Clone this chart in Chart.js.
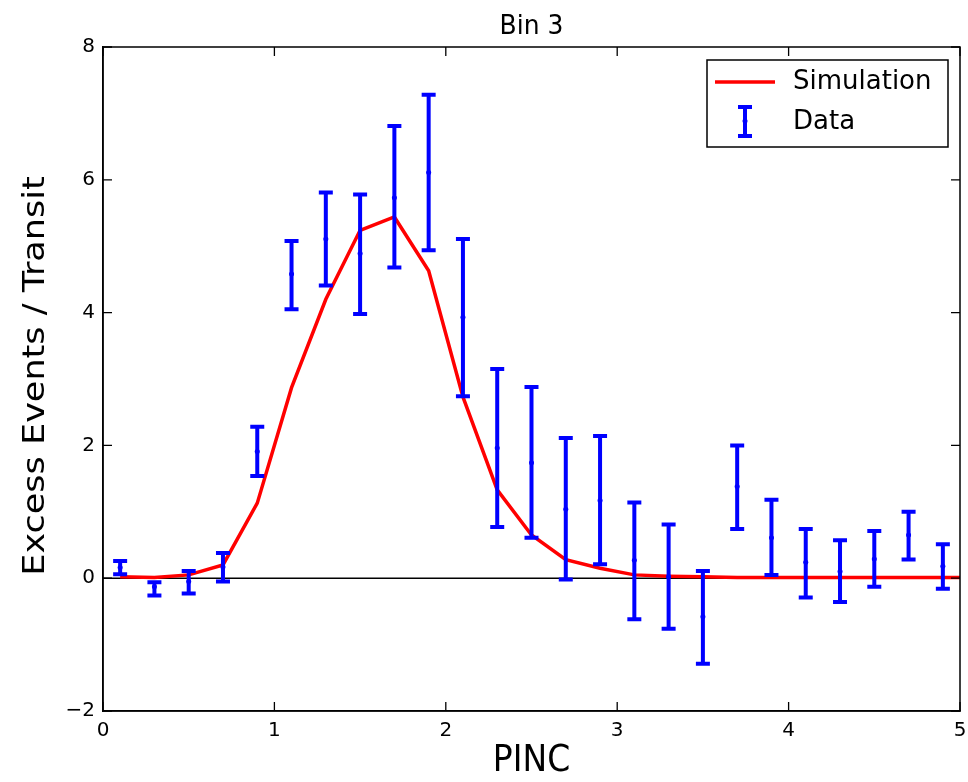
<!DOCTYPE html>
<html>
<head>
<meta charset="utf-8">
<script src="https://cdn.jsdelivr.net/npm/chart.js@4/dist/chart.umd.min.js"></script>
<style>
  html, body { margin: 0; padding: 0; background: #fff; }
  #wrap { width: 968px; height: 782px; }
</style>
</head>
<body>
<div id="wrap"><canvas id="c" width="968" height="782"></canvas></div>
<script>
// PINC bin centres
const pinc = [0.1, 0.3, 0.5, 0.7, 0.9, 1.1, 1.3, 1.5, 1.7, 1.9, 2.1, 2.3, 2.5,
              2.7, 2.9, 3.1, 3.3, 3.5, 3.7, 3.9, 4.1, 4.3, 4.5, 4.7, 4.9];
// measured excess events per transit
const dataVals = [0.16, -0.13, -0.05, 0.17, 1.91, 4.58, 5.11, 4.89, 5.73, 6.11, 3.93, 1.96, 1.74,
                  1.04, 1.17, 0.27, 0.02, -0.58, 1.38, 0.61, 0.24, 0.10, 0.29, 0.65, 0.18];
// lower / upper ends of the error bars
const dataLow  = [0.06, -0.26, -0.23, -0.05, 1.54, 4.05, 4.41, 3.98, 4.68, 4.94, 2.74, 0.77, 0.61,
                  -0.02, 0.21, -0.62, -0.76, -1.29, 0.74, 0.05, -0.29, -0.36, -0.13, 0.28, -0.16];
const dataHigh = [0.26, -0.06, 0.11, 0.38, 2.28, 5.08, 5.81, 5.78, 6.81, 7.28, 5.11, 3.15, 2.88,
                  2.11, 2.14, 1.14, 0.81, 0.11, 2.00, 1.18, 0.74, 0.57, 0.71, 1.00, 0.51];
// simulated curve
const simX   = [0.1, 0.3, 0.5, 0.7, 0.9, 1.1, 1.3, 1.5, 1.7, 1.9, 2.1, 2.3, 2.5,
                2.7, 2.9, 3.1, 3.3, 3.5, 3.7, 3.9, 4.1, 4.3, 4.5, 4.7, 4.9, 5.0];
const simVals = [0.02, 0.01, 0.05, 0.20, 1.13, 2.87, 4.20, 5.24, 5.44, 4.63, 2.73, 1.33, 0.65,
                 0.28, 0.15, 0.05, 0.03, 0.02, 0.01, 0.01, 0.01, 0.01, 0.01, 0.01, 0.01, 0.01];
// axis ticks
const xTicks = [0, 1, 2, 3, 4, 5];
const yTicks = [-2, 0, 2, 4, 6, 8];

const FONT = "'DejaVu Sans', sans-serif";
const BLUE = '#0000ff';
const RED = '#ff0000';

// text drawn slightly taller than wide, like the rest of the figure
function stretchedText(ctx, text, x, y, size, sy, rot) {
  ctx.save();
  ctx.translate(x, y);
  if (rot) ctx.rotate(rot);
  if (rot) ctx.scale(sy, 1); else ctx.scale(1, sy);
  ctx.font = `${size}px ${FONT}`;
  ctx.fillText(text, 0, 0);
  ctx.restore();
}

const decor = {
  id: 'decor',
  beforeDatasetsDraw(chart) {
    const { ctx, chartArea: a, scales: { y } } = chart;
    ctx.save();
    // horizontal reference line at zero
    ctx.strokeStyle = '#000';
    ctx.lineWidth = 1.5;
    const y0 = y.getPixelForValue(0);
    ctx.beginPath();
    ctx.moveTo(a.left, y0);
    ctx.lineTo(a.right, y0);
    ctx.stroke();
    ctx.restore();
  },
  afterDatasetsDraw(chart) {
    const { ctx, scales: { x, y } } = chart;
    ctx.save();
    // error bars with caps
    ctx.strokeStyle = BLUE;
    ctx.lineWidth = 4;
    ctx.lineCap = 'butt';
    const capHalf = 7;
    pinc.forEach((px, i) => {
      const cx = x.getPixelForValue(px);
      const yl = y.getPixelForValue(dataLow[i]);
      const yh = y.getPixelForValue(dataHigh[i]);
      ctx.beginPath();
      ctx.moveTo(cx, yl); ctx.lineTo(cx, yh);
      ctx.moveTo(cx - capHalf, yl); ctx.lineTo(cx + capHalf, yl);
      ctx.moveTo(cx - capHalf, yh); ctx.lineTo(cx + capHalf, yh);
      ctx.stroke();
    });
    ctx.restore();
  },
  afterDraw(chart) {
    const { ctx, chartArea: a, scales: { x, y } } = chart;
    ctx.save();
    // frame
    ctx.strokeStyle = '#000';
    ctx.lineWidth = 1.5;
    ctx.strokeRect(a.left, a.top, a.right - a.left, a.bottom - a.top);
    // inward ticks on all four sides
    const tl = 9;
    ctx.lineWidth = 1.3;
    ctx.beginPath();
    xTicks.forEach(v => {
      const px = x.getPixelForValue(v);
      ctx.moveTo(px, a.bottom); ctx.lineTo(px, a.bottom - tl);
      ctx.moveTo(px, a.top); ctx.lineTo(px, a.top + tl);
    });
    yTicks.forEach(v => {
      const py = y.getPixelForValue(v);
      ctx.moveTo(a.left, py); ctx.lineTo(a.left + tl, py);
      ctx.moveTo(a.right, py); ctx.lineTo(a.right - tl, py);
    });
    ctx.stroke();

    // title and axis titles
    ctx.fillStyle = '#000';
    ctx.textAlign = 'center';
    ctx.textBaseline = 'middle';
    stretchedText(ctx, 'Bin 3', (a.left + a.right) / 2, 27, 25, 1.08, 0);
    stretchedText(ctx, 'PINC', (a.left + a.right) / 2, 761, 33, 1.12, 0);
    stretchedText(ctx, 'Excess Events / Transit', 36, 376, 31, 1.13, -Math.PI / 2);

    // legend
    const lx = 707, ly = 60, lw = 241, lh = 87;
    ctx.fillStyle = '#fff';
    ctx.fillRect(lx, ly, lw, lh);
    ctx.strokeStyle = '#000';
    ctx.lineWidth = 1.5;
    ctx.strokeRect(lx, ly, lw, lh);
    ctx.strokeStyle = RED;
    ctx.lineWidth = 3.5;
    ctx.beginPath();
    ctx.moveTo(715, 82); ctx.lineTo(775, 82);
    ctx.stroke();
    ctx.strokeStyle = BLUE;
    ctx.lineWidth = 4;
    ctx.beginPath();
    ctx.moveTo(745, 107); ctx.lineTo(745, 136);
    ctx.moveTo(738, 107); ctx.lineTo(752, 107);
    ctx.moveTo(738, 136); ctx.lineTo(752, 136);
    ctx.stroke();
    ctx.fillStyle = BLUE;
    ctx.beginPath(); ctx.arc(745, 121, 2.5, 0, Math.PI * 2); ctx.fill();
    ctx.fillStyle = '#000';
    ctx.textAlign = 'left';
    stretchedText(ctx, 'Simulation', 793, 82, 26, 1.0, 0);
    stretchedText(ctx, 'Data', 793, 122, 26, 1.0, 0);
    ctx.restore();
  }
};

new Chart(document.getElementById('c'), {
  data: {
    datasets: [
      {
        type: 'line',
        label: 'Simulation',
        data: simX.map((v, i) => ({ x: v, y: simVals[i] })),
        borderColor: RED,
        borderWidth: 3.5,
        pointRadius: 0,
        tension: 0,
        fill: false,
        order: 2
      },
      {
        type: 'scatter',
        label: 'Data',
        data: pinc.map((v, i) => ({ x: v, y: dataVals[i] })),
        backgroundColor: BLUE,
        borderColor: BLUE,
        pointRadius: 2.5,
        borderWidth: 0,
        order: 1
      }
    ]
  },
  options: {
    responsive: false,
    animation: false,
    devicePixelRatio: 1,
    layout: { padding: { left: 0, right: 8, top: 47, bottom: 0 } },
    plugins: { legend: { display: false }, tooltip: { enabled: false }, title: { display: false } },
    scales: {
      x: {
        type: 'linear', min: 0, max: 5,
        afterBuildTicks: s => { s.ticks = xTicks.map(v => ({ value: v })); },
        afterFit: s => { s.height = 71; s.paddingLeft = 0; s.paddingRight = 0; },
        grid: { display: false, drawTicks: false },
        border: { display: true, color: '#000', width: 1.5 },
        ticks: { color: '#000', font: { family: FONT, size: 20 }, padding: 8, maxRotation: 0 }
      },
      y: {
        type: 'linear', min: -2, max: 8,
        afterBuildTicks: s => { s.ticks = yTicks.map(v => ({ value: v })); },
        afterFit: s => { s.width = 103; s.paddingTop = 0; s.paddingBottom = 0; },
        grid: { display: false, drawTicks: false },
        border: { display: true, color: '#000', width: 1.5 },
        ticks: {
          color: '#000', font: { family: FONT, size: 20 }, padding: 8,
          callback: v => (v < 0 ? '\u2212' + Math.abs(v) : String(v))
        }
      }
    }
  },
  plugins: [decor]
});
</script>
</body>
</html>
